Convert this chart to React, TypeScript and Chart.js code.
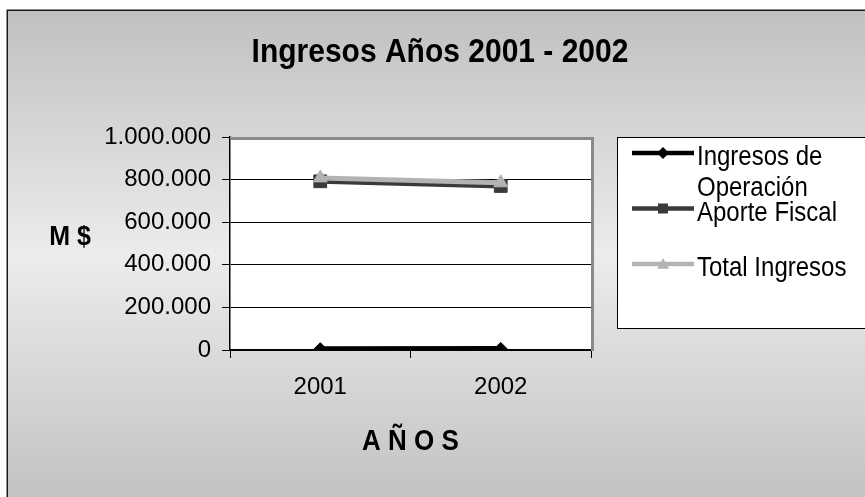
import React, { useEffect, useRef } from 'react';
import { Chart, registerables } from 'chart.js';

Chart.register(...registerables);

// ---- data ----
const categories = ['2001', '2002'];
const ingresosOperacion = [4000, 5000];
const aporteFiscal = [792000, 770000];
const totalIngresos = [808000, 785000];
const yTickValues = [0, 200000, 400000, 600000, 800000, 1000000];
const seriesLabels = ['Ingresos de Operación', 'Aporte Fiscal', 'Total Ingresos'];
const chartTitle = 'Ingresos Años 2001 - 2002';
const yAxisTitle = 'M $';
const xAxisTitle = 'A Ñ O S';

const FONT = '"Liberation Sans", Arial, Helvetica, sans-serif';
const STRETCH = 1.12;

const fmt = (v: number) => String(Math.round(v)).replace(/\B(?=(\d{3})+(?!\d))/g, '.');

function drawMarker(ctx: CanvasRenderingContext2D, style: string, x: number, y: number, r: number, color: string) {
  ctx.save();
  ctx.fillStyle = color;
  ctx.beginPath();
  if (style === 'rectRot') {
    ctx.moveTo(x, y - r);
    ctx.lineTo(x + r, y);
    ctx.lineTo(x, y + r);
    ctx.lineTo(x - r, y);
  } else if (style === 'rect') {
    ctx.rect(x - r, y - r, 2 * r, 2 * r);
  } else {
    ctx.moveTo(x, y - r);
    ctx.lineTo(x + r, y + r * 0.8);
    ctx.lineTo(x - r, y + r * 0.8);
  }
  ctx.closePath();
  ctx.fill();
  ctx.restore();
}

function wrap(ctx: CanvasRenderingContext2D, text: string, maxW: number): string[] {
  const words = text.split(' ');
  const lines: string[] = [];
  let cur = '';
  for (const w of words) {
    const t = cur ? cur + ' ' + w : w;
    if (ctx.measureText(t).width > maxW && cur) {
      lines.push(cur);
      cur = w;
    } else cur = t;
  }
  if (cur) lines.push(cur);
  return lines;
}

// draws text stretched vertically around its baseline
function tallText(ctx: CanvasRenderingContext2D, text: string, x: number, y: number) {
  ctx.save();
  ctx.translate(x, y);
  ctx.scale(1, STRETCH);
  ctx.fillText(text, 0, 0);
  ctx.restore();
}

const decor = {
  id: 'decor',
  beforeDraw(chart: any) {
    const { ctx, width, height, chartArea: a } = chart;
    ctx.save();
    ctx.fillStyle = '#ffffff';
    ctx.fillRect(0, 0, width, height);
    const g = ctx.createLinearGradient(0, 10, 0, 500);
    g.addColorStop(0, '#c0c0c0');
    g.addColorStop(0.5, '#ececec');
    g.addColorStop(1, '#c2c2c2');
    ctx.fillStyle = g;
    ctx.fillRect(7, 10, width, height);
    ctx.strokeStyle = '#1a1a1a';
    ctx.lineWidth = 1.5;
    ctx.strokeRect(7.25, 10.25, width + 20, height + 20);
    ctx.fillStyle = '#ffffff';
    ctx.fillRect(a.left, a.top, a.right - a.left, a.bottom - a.top);
    ctx.restore();
  },
  beforeDatasetsDraw(chart: any) {
    const { ctx, chartArea: a } = chart;
    ctx.save();
    ctx.fillStyle = '#8a8a8a';
    ctx.fillRect(a.left, a.top, a.right - a.left + 3, 3);
    ctx.fillRect(a.right, a.top, 3, a.bottom - a.top + 1);
    ctx.restore();
  },
  afterDraw(chart: any) {
    const { ctx, chartArea: a, width } = chart;
    ctx.save();
    ctx.fillStyle = '#000';
    ctx.textAlign = 'center';
    ctx.textBaseline = 'alphabetic';
    ctx.font = `bold 30px ${FONT}`;
    tallText(ctx, chartTitle, 440, 62);
    ctx.font = `bold 25px ${FONT}`;
    tallText(ctx, yAxisTitle, 70, 245);
    ctx.font = `bold 26px ${FONT}`;
    tallText(ctx, xAxisTitle, (a.left + a.right) / 2, 450);

    // legend
    const lx = 617;
    const ly = 137;
    ctx.fillStyle = '#ffffff';
    ctx.fillRect(lx, ly, width - lx + 10, 192);
    ctx.strokeStyle = '#000';
    ctx.lineWidth = 1;
    ctx.strokeRect(lx + 0.5, ly + 0.5, width - lx + 10, 191);
    ctx.font = `24px ${FONT}`;
    ctx.textAlign = 'left';
    ctx.textBaseline = 'alphabetic';
    const markerSize: Record<string, number> = { rectRot: 6, rect: 5, triangle: 6 };
    chart.data.datasets.forEach((ds: any, i: number) => {
      const sy = 153 + i * 55.5;
      ctx.strokeStyle = ds.borderColor;
      ctx.lineWidth = 4.5;
      ctx.beginPath();
      ctx.moveTo(632, sy);
      ctx.lineTo(694, sy);
      ctx.stroke();
      drawMarker(ctx, ds.pointStyle, 663, sy, markerSize[ds.pointStyle] || 5, ds.borderColor);
      ctx.fillStyle = '#000';
      const lines = wrap(ctx, ds.label, 160);
      lines.forEach((ln, k) => tallText(ctx, ln, 697, sy + 12 + k * 31));
    });
    ctx.restore();
  },
};

export default function App() {
  const ref = useRef<HTMLCanvasElement>(null);
  useEffect(() => {
    document.body.style.margin = '0';
    const canvas = ref.current!;
    const chart = new Chart(canvas, {
      type: 'line',
      data: {
        labels: categories,
        datasets: [
          {
            label: seriesLabels[0],
            data: ingresosOperacion,
            borderColor: '#000000',
            backgroundColor: '#000000',
            pointBackgroundColor: '#000000',
            pointBorderColor: '#000000',
            borderWidth: 6,
            pointStyle: 'rectRot',
            pointRadius: 6.5,
            pointBorderWidth: 1,
            order: 2,
          },
          {
            label: seriesLabels[1],
            data: aporteFiscal,
            borderColor: '#3a3a3a',
            backgroundColor: '#3a3a3a',
            pointBackgroundColor: '#3a3a3a',
            pointBorderColor: '#3a3a3a',
            borderWidth: 5,
            pointStyle: 'rect',
            pointRadius: 9,
            pointBorderWidth: 1,
            order: 1,
          },
          {
            label: seriesLabels[2],
            data: totalIngresos,
            borderColor: '#b3b3b3',
            backgroundColor: '#b3b3b3',
            pointBackgroundColor: '#b3b3b3',
            pointBorderColor: '#b3b3b3',
            borderWidth: 5,
            pointStyle: 'triangle',
            pointRadius: 8,
            pointBorderWidth: 1,
            order: 0,
          },
        ],
      } as any,
      options: {
        responsive: false,
        animation: false,
        devicePixelRatio: 1,
        layout: { padding: { left: 0, top: 137, right: 274, bottom: 0 } },
        plugins: {
          legend: { display: false },
          title: { display: false },
          tooltip: { enabled: false },
        },
        scales: {
          x: {
            type: 'category',
            offset: true,
            grid: { offset: true, drawOnChartArea: false, drawTicks: true, tickLength: 8, color: '#000' },
            border: { color: '#000', width: 1.5 },
            ticks: { color: '#000', font: { family: FONT, size: 24 }, padding: 15, maxRotation: 0 },
            afterFit: (s: any) => { s.height = 147; },
          },
          y: {
            min: 0,
            max: 1000000,
            afterBuildTicks: (s: any) => { s.ticks = yTickValues.map((v) => ({ value: v })); },
            grid: { color: '#000', tickLength: 8, lineWidth: 1 },
            border: { color: '#000', width: 1.5 },
            ticks: {
              color: '#000',
              font: { family: FONT, size: 24 },
              padding: 11,
              callback: (v: any) => fmt(Number(v)),
            },
            afterFit: (s: any) => { s.width = 230; },
          },
        },
      } as any,
      plugins: [decor],
    });
    return () => chart.destroy();
  }, []);
  return (
    <div style={{ width: 865, height: 497 }}>
      <canvas ref={ref} width={865} height={497} style={{ display: 'block' }} />
    </div>
  );
}
